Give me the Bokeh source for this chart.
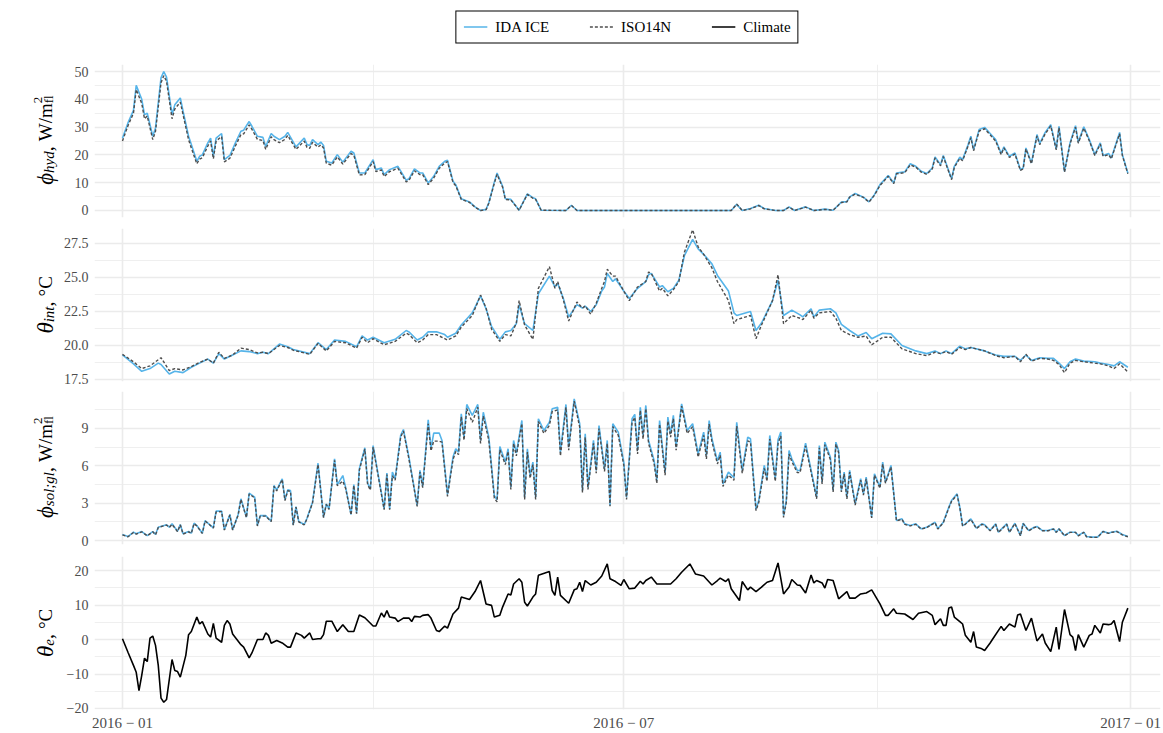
import numpy as np
from bokeh.plotting import figure
from bokeh.models import Range1d, FixedTicker, Legend, LegendItem, Label
from bokeh.layouts import row, column
from bokeh.embed import file_html
from bokeh.resources import INLINE

# ---------------------------------------------------------------- data
# x values are day numbers counted from 2016-01-01

# hydronic heating power, W/m2 floor
P1_DAY = [0, 2, 4, 5, 7, 8, 9, 11, 12, 14,
          15, 16, 18, 19, 21, 22, 24, 25, 27, 28,
          29, 31, 32, 33, 34, 36, 37, 39, 41, 43,
          44, 46, 47, 49, 51, 52, 54, 55, 57, 59,
          60, 63, 66, 67, 68, 69, 71, 72, 73, 74,
          76, 78, 80, 83, 84, 86, 88, 91, 92, 94,
          95, 97, 100, 103, 104, 106, 108, 109, 111, 113,
          115, 117, 118, 120, 121, 123, 126, 128, 130, 132,
          133, 135, 136, 138, 139, 141, 144, 147, 149, 150,
          152, 161, 163, 165, 221, 223, 225, 228, 231, 233,
          237, 240, 242, 244, 248, 251, 255, 258, 261, 263,
          264, 266, 269, 271, 273, 275, 278, 280, 281, 284,
          286, 288, 290, 292, 294, 295, 297, 298, 301, 302,
          304, 305, 307, 308, 309, 311, 313, 315, 317, 319,
          320, 322, 324, 326, 327, 328, 330, 332, 333, 335,
          337, 339, 340, 342, 344, 346, 347, 349, 351, 353,
          355, 356, 358, 359, 362, 363, 365]
IDA_HYD = [26, 31.5, 36, 45, 40, 34.5, 35, 26.7, 29.7, 47.7,
           50, 48, 34.5, 38, 40.5, 35.7, 26.7, 23.7, 17.7, 19.5,
           20, 24.3, 26, 19.5, 26, 27.7, 18.3, 19.8, 24.3, 28.5,
           28.9, 32, 30.3, 26.7, 26.3, 23, 27.7, 26.7, 25.5, 26.7,
           28.1, 22.9, 26.1, 23.7, 23.4, 25.5, 23.7, 24.6, 23.4, 17.7,
           17.1, 20.1, 17.4, 21.3, 20.7, 13.5, 13.5, 18.3, 14.7, 15.3,
           12.9, 14.7, 15.9, 10.9, 11.4, 15, 13.5, 13.5, 9.9, 12.3,
           15.9, 17.7, 18.1, 10.5, 9.3, 4.2, 3.1, 1.3, 0, 0.4,
           2.8, 10.2, 13.5, 8.7, 4.2, 4.0, 0.1, 6.0, 4.6, 4.2,
           0.1, 0, 1.9, 0, 0, 2.2, 0, 0.7, 1.9, 0.7,
           0, 0, 1.3, 0, 1.3, 0, 0.5, 0.1, 3.0, 3.2,
           4.9, 6.1, 4.8, 3.1, 5.7, 9.3, 12.6, 9.9, 13.5, 13.9,
           16.8, 15.9, 14.1, 13.3, 15.3, 19.3, 16.5, 19.8, 11.4, 15.9,
           19.2, 18.3, 23.7, 26.7, 21.9, 29.1, 29.9, 27.7, 25.5, 20.5,
           22.9, 19.5, 20.7, 14.7, 15.3, 22.5, 17.1, 27.3, 24.1, 28.1,
           30.9, 22.2, 30.3, 14.1, 24.3, 30.5, 24.6, 30.1, 25.5, 20.1,
           24.3, 19.8, 20.5, 18.9, 28.1, 20.1, 13.5]
ISO_HYD = [25, 30.5, 35, 43.5, 38.5, 33, 34, 25.5, 28.5, 46,
           48.5, 46.5, 33, 36.5, 39, 34.5, 25.5, 22.5, 16.8, 18.5,
           19, 23.2, 25, 18.6, 25, 26.6, 17.5, 18.8, 23.2, 27.3,
           27.6, 30.8, 29.2, 25.6, 25.2, 22, 26.5, 25.5, 24.4, 25.6,
           27, 22, 25, 22.7, 22.4, 24.5, 22.8, 23.6, 22.5, 17,
           16.3, 19.3, 16.7, 20.5, 19.9, 12.8, 12.9, 17.6, 14, 14.6,
           12.2, 14, 15.2, 10.3, 10.8, 14.3, 12.9, 12.9, 9.3, 11.7,
           15.2, 17.1, 17.6, 10.1, 8.9, 4.0, 2.9, 1.2, 0, 0.3,
           2.6, 9.8, 13.0, 8.4, 4.0, 3.8, 0.1, 5.8, 4.4, 4.0,
           0.1, 0, 1.8, 0, 0, 2.3, 0, 0.6, 1.8, 0.6,
           0, 0, 1.2, 0, 1.2, 0, 0.4, 0.1, 2.9, 3.1,
           4.8, 5.9, 4.7, 3.0, 5.5, 9.0, 12.3, 9.7, 13.2, 13.6,
           16.4, 15.6, 13.8, 13.0, 15.0, 18.9, 16.1, 19.4, 11.1, 15.5,
           18.8, 17.9, 23.2, 26.2, 21.5, 28.6, 29.4, 27.2, 25.0, 20.1,
           22.5, 19.1, 20.3, 14.4, 15.0, 22.1, 16.8, 26.8, 23.7, 27.6,
           30.4, 21.8, 29.8, 13.8, 23.9, 30.0, 24.2, 29.6, 25.1, 19.8,
           23.9, 19.5, 20.1, 18.6, 27.6, 19.8, 13.2]

# indoor temperature, degC
P2_DAY = [0, 4, 7, 10, 13, 14, 17, 19, 22, 25,
          28, 31, 33, 35, 37, 40, 43, 46, 49, 51,
          53, 57, 60, 62, 68, 71, 74, 77, 81, 85,
          87, 89, 91, 95, 99, 103, 104, 107, 109, 111,
          114, 117, 118, 121, 123, 127, 130, 132, 134, 137,
          139, 141, 143, 144, 146, 149, 151, 155, 157, 158,
          160, 162, 165, 167, 168, 170, 172, 174, 175, 176,
          178, 179, 182, 184, 187, 190, 191, 192, 195, 196,
          198, 200, 202, 204, 207, 209, 211, 214, 216, 220,
          222, 223, 228, 230, 232, 236, 238, 240, 243, 246,
          247, 250, 251, 253, 257, 259, 261, 264, 267, 270,
          272, 276, 279, 283, 288, 292, 295, 297, 299, 301,
          304, 306, 308, 313, 317, 320, 324, 326, 328, 330,
          333, 336, 338, 340, 342, 344, 346, 349, 353, 355,
          358, 360, 362, 365]
IDA_INT = [19.3, 18.65, 18.1, 18.3, 18.7, 18.6, 17.9, 18.1, 18.0, 18.4,
           18.7, 19.0, 18.7, 19.4, 19.0, 19.3, 19.6, 19.55, 19.4, 19.5,
           19.4, 20.1, 19.9, 19.7, 19.4, 20.2, 19.7, 20.4, 20.3, 19.9,
           20.7, 20.4, 20.6, 20.2, 20.45, 21.1, 21.0, 20.4, 20.6, 21.0,
           21.0, 20.8, 20.6, 20.9, 21.5, 22.4, 23.65, 22.7, 21.4, 20.45,
           21.0, 21.1, 21.6, 23.0, 21.6, 21.1, 23.8, 25.1, 24.3, 24.55,
           23.5, 22.1, 23.0, 22.75, 22.9, 22.5, 23.0, 24.0, 24.3, 25.3,
           24.7, 24.9, 24.0, 23.45, 24.2, 24.7, 25.2, 25.3, 24.3, 24.4,
           23.95, 24.2, 24.8, 26.6, 27.8, 27.1, 26.7, 26.0, 25.15, 24.0,
           22.4, 22.2, 22.5, 21.1, 21.65, 23.3, 24.8, 22.2, 22.6, 22.25,
           22.1, 22.7, 22.1, 22.6, 22.7, 22.4, 21.55, 21.1, 20.7, 20.95,
           20.5, 20.9, 20.85, 20.0, 19.6, 19.4, 19.6, 19.4, 19.6, 19.4,
           19.95, 19.75, 19.85, 19.6, 19.3, 19.2, 19.2, 18.9, 19.3, 18.9,
           19.1, 19.05, 19.05, 18.7, 18.3, 18.8, 19.0, 18.85, 18.8, 18.7,
           18.6, 18.5, 18.8, 18.4]
ISO_INT = [19.35, 18.8, 18.3, 18.5, 18.95, 19.1, 18.15, 18.3, 18.2, 18.45,
           18.75, 19.0, 18.7, 19.5, 19.05, 19.3, 19.8, 19.7, 19.45, 19.5,
           19.4, 20.0, 19.85, 19.65, 19.35, 20.15, 19.6, 20.3, 20.2, 19.8,
           20.6, 20.2, 20.5, 20.05, 20.3, 20.9, 20.8, 20.2, 20.4, 20.8,
           20.8, 20.5, 20.4, 20.7, 21.35, 22.2, 23.7, 22.75, 21.2, 20.3,
           20.8, 20.7, 21.65, 23.3, 21.5, 20.45, 24.2, 25.8, 24.2, 24.7,
           23.4, 21.8, 23.2, 22.75, 22.9, 22.3, 23.1, 24.2, 24.7, 25.6,
           25.1, 25.1, 24.0, 23.3, 24.3, 24.7, 25.4, 25.3, 24.0, 24.2,
           23.65, 24.1, 24.7, 26.85, 28.5, 27.25, 26.7, 25.7, 24.7, 23.3,
           21.6, 21.9, 22.2, 20.5, 21.5, 23.3, 25.2, 21.6, 22.2, 22.0,
           21.9, 22.6, 22.0, 22.4, 22.5, 22.0, 21.1, 20.8, 20.6, 20.7,
           20.05, 20.6, 20.6, 19.75, 19.4, 19.25, 19.5, 19.4, 19.55, 19.35,
           19.85, 19.7, 19.85, 19.6, 19.25, 19.1, 19.2, 18.8, 19.35, 18.85,
           19.05, 19.0, 18.9, 18.6, 18.0, 18.7, 18.9, 18.8, 18.7, 18.65,
           18.5, 18.3, 18.65, 18.05]

# solar gains through glazing, W/m2 floor
P3_DAY = [0, 2, 4, 5, 7, 9, 11, 12, 13, 16,
          17, 18, 20, 21, 22, 24, 25, 26, 27, 29,
          30, 33, 34, 36, 37, 39, 40, 42, 43, 45,
          46, 48, 49, 50, 52, 54, 55, 56, 58, 59,
          60, 61, 62, 63, 64, 66, 67, 69, 71, 73,
          74, 75, 77, 78, 80, 81, 83, 84, 85, 86,
          88, 89, 90, 91, 93, 95, 96, 97, 98, 99,
          101, 102, 104, 107, 108, 109, 111, 112, 113, 115,
          116, 118, 120, 121, 122, 123, 124, 125, 127, 129,
          130, 131, 133, 135, 136, 137, 139, 140, 141, 142,
          143, 145, 146, 147, 148, 149, 150, 151, 153, 155,
          156, 158, 159, 161, 162, 164, 166, 167, 168, 169,
          171, 172, 173, 175, 176, 177, 178, 180, 182, 183,
          185, 186, 187, 188, 189, 190, 191, 193, 194, 195,
          197, 198, 199, 200, 201, 203, 205, 207, 209, 211,
          212, 213, 214, 216, 217, 218, 220, 222, 223, 225,
          227, 228, 230, 231, 233, 234, 235, 237, 238, 239,
          240, 241, 242, 243, 245, 246, 248, 252, 253, 254,
          255, 257, 258, 259, 260, 261, 262, 263, 264, 266,
          268, 269, 270, 272, 273, 275, 276, 277, 279, 281,
          283, 284, 286, 288, 290, 292, 295, 296, 298, 300,
          301, 303, 304, 305, 306, 308, 310, 312, 313, 315,
          317, 318, 321, 322, 324, 326, 327, 329, 331, 332,
          334, 336, 338, 339, 340, 342, 344, 346, 347, 349,
          350, 352, 354, 356, 358, 359, 361, 363, 365]
IDA_SOL = [0.48, 0.32, 0.67, 0.54, 0.72, 0.4, 0.72, 0.48, 1.07, 1.26,
           1.07, 1.34, 0.75, 1.29, 0.54, 0.72, 0.59, 1.39, 1.2, 0.59,
           1.6, 1.02, 2.36, 2.36, 0.86, 2.09, 0.86, 2.09, 3.35, 1.88,
           3.8, 3.48, 1.2, 2.0, 2.0, 1.55, 4.42, 4.07, 4.96, 3.27,
           4.07, 4.02, 1.26, 2.73, 1.53, 1.29, 1.79, 3.08, 6.21, 1.88,
           2.95, 2.54, 6.56, 4.47, 5.22, 4.29, 2.09, 4.5, 2.2, 5.76,
           7.45, 4.61, 4.15, 7.63, 5.09, 2.54, 5.41, 2.54, 5.49, 4.96,
           8.44, 8.92, 6.7, 2.81, 5.63, 4.34, 9.7, 7.37, 8.63, 8.63,
           8.04, 3.7, 6.7, 7.37, 7.1, 10.18, 8.3, 10.93, 10.05, 10.93,
           8.04, 10.3, 8.3, 3.6, 3.27, 7.55, 6.3, 7.37, 4.29, 8.04,
           7.02, 9.64, 3.48, 7.37, 5.22, 6.3, 3.48, 9.78, 8.84, 9.5,
           10.58, 10.7, 7.1, 10.93, 7.5, 11.38, 9.38, 4.02, 8.57, 4.29,
           8.04, 5.63, 9.24, 5.76, 8.04, 2.81, 9.38, 8.71, 6.3, 3.48,
           9.78, 10.13, 7.23, 10.7, 8.44, 10.85, 8.04, 6.43, 4.82, 9.64,
           5.49, 9.91, 8.57, 10.05, 7.5, 10.98, 8.84, 9.38, 6.96, 8.71,
           6.83, 9.64, 8.17, 6.38, 7.1, 4.55, 5.49, 5.04, 9.5, 5.63,
           8.3, 8.17, 2.54, 3.21, 6.03, 4.96, 8.44, 4.96, 8.09, 8.71,
           2.01, 3.21, 7.23, 6.56, 5.63, 5.63, 7.82, 3.48, 7.63, 4.69,
           7.9, 6.7, 4.02, 7.9, 7.23, 4.02, 5.49, 3.48, 5.63, 2.95,
           4.96, 3.75, 5.09, 1.88, 5.36, 4.29, 6.3, 4.69, 6.03, 1.61,
           1.74, 1.34, 1.2, 1.34, 0.94, 1.07, 1.47, 0.94, 1.47, 2.68,
           3.21, 3.75, 2.68, 1.2, 1.34, 1.74, 0.99, 1.34, 1.26, 0.8,
           1.34, 0.67, 1.34, 0.67, 1.39, 0.4, 1.39, 0.8, 1.07, 1.13,
           0.8, 0.8, 0.94, 0.67, 0.94, 0.4, 0.67, 0.67, 0.4, 0.67,
           0.32, 0.27, 0.27, 0.75, 0.59, 0.67, 0.75, 0.48, 0.32]
ISO_SOL = [0.45, 0.3, 0.65, 0.52, 0.7, 0.38, 0.7, 0.46, 1.05, 1.24,
           1.05, 1.3, 0.72, 1.26, 0.52, 0.7, 0.57, 1.36, 1.17, 0.57,
           1.57, 1.0, 2.3, 2.32, 0.84, 2.05, 0.84, 2.05, 3.3, 1.84,
           3.74, 3.42, 1.17, 1.96, 1.96, 1.52, 4.35, 3.98, 4.9, 3.2,
           4.0, 3.95, 1.23, 2.68, 1.5, 1.26, 1.75, 3.02, 6.1, 1.84,
           2.9, 2.5, 6.45, 4.4, 4.77, 4.2, 2.05, 4.42, 2.15, 5.65,
           7.35, 4.5, 4.05, 7.5, 4.98, 2.48, 5.3, 2.48, 5.2, 4.85,
           8.3, 8.8, 6.55, 2.74, 5.5, 4.25, 9.38, 7.2, 7.98, 7.98,
           7.9, 3.55, 6.5, 7.15, 6.9, 9.95, 8.05, 10.6, 9.5, 10.7,
           7.8, 10.0, 8.05, 3.4, 3.1, 7.3, 6.1, 7.15, 4.1, 7.8,
           6.8, 9.4, 3.3, 7.1, 5.0, 6.1, 3.3, 9.55, 8.6, 9.25,
           10.35, 10.5, 6.8, 10.7, 7.25, 11.2, 9.1, 3.85, 8.3, 4.1,
           7.8, 5.4, 9.0, 5.55, 7.8, 2.75, 9.15, 8.45, 6.05, 3.3,
           9.5, 9.9, 6.95, 10.45, 8.15, 10.6, 7.8, 6.2, 4.6, 9.35,
           5.25, 9.6, 8.3, 9.8, 7.25, 10.8, 8.6, 9.15, 6.7, 8.45,
           6.55, 9.35, 7.95, 6.15, 6.85, 4.35, 5.25, 4.85, 9.2, 5.4,
           8.0, 7.9, 2.4, 3.05, 5.8, 4.75, 8.15, 4.75, 7.8, 8.4,
           1.85, 3.05, 6.95, 6.35, 5.45, 5.45, 7.6, 3.35, 7.45, 4.55,
           7.7, 6.5, 3.9, 7.75, 7.05, 3.9, 5.35, 3.35, 5.5, 2.85,
           4.85, 3.65, 4.95, 1.82, 5.25, 4.2, 6.15, 4.6, 5.9, 1.58,
           1.7, 1.3, 1.17, 1.3, 0.92, 1.04, 1.43, 0.92, 1.43, 2.62,
           3.15, 3.68, 2.62, 1.17, 1.3, 1.7, 0.96, 1.3, 1.23, 0.78,
           1.3, 0.65, 1.3, 0.65, 1.36, 0.38, 1.36, 0.78, 1.04, 1.1,
           0.78, 0.78, 0.92, 0.65, 0.92, 0.38, 0.65, 0.65, 0.38, 0.65,
           0.3, 0.25, 0.25, 0.72, 0.57, 0.65, 0.72, 0.46, 0.3]

# outdoor air temperature, degC
P4_DAY = [0, 2, 4, 5, 6, 7, 8, 9, 10, 11,
          12, 13, 14, 15, 16, 18, 19, 20, 21, 23,
          24, 25, 27, 28, 29, 31, 32, 33, 34, 36,
          37, 38, 39, 40, 43, 44, 46, 47, 49, 51,
          52, 53, 54, 56, 58, 60, 61, 63, 65, 66,
          68, 69, 71, 72, 73, 74, 76, 78, 80, 82,
          84, 86, 88, 91, 92, 94, 95, 96, 97, 99,
          100, 102, 104, 105, 106, 108, 109, 111, 112, 114,
          115, 117, 118, 120, 122, 123, 126, 128, 130, 132,
          134, 135, 137, 138, 140, 141, 142, 144, 145, 146,
          147, 149, 150, 151, 155, 156, 157, 158, 159, 162,
          164, 165, 166, 167, 168, 170, 172, 174, 176, 177,
          179, 181, 182, 184, 186, 188, 189, 190, 192, 194,
          199, 201, 203, 206, 208, 211, 214, 216, 217, 219,
          220, 221, 224, 225, 227, 228, 230, 232, 234, 236,
          238, 240, 242, 243, 245, 246, 248, 250, 251, 252,
          254, 255, 256, 258, 260, 263, 264, 266, 268, 270,
          272, 275, 277, 278, 280, 281, 284, 287, 289, 292,
          294, 295, 297, 298, 299, 300, 301, 302, 304, 305,
          306, 308, 309, 310, 312, 313, 315, 316, 319, 320,
          322, 324, 325, 326, 328, 330, 332, 334, 335, 337,
          339, 340, 342, 344, 345, 346, 347, 349, 351, 352,
          353, 355, 356, 358, 359, 360, 362, 363, 365]
CLIMATE = [0.2, -3.7, -7.5, -9.5, -14.8, -10.4, -5.4, -6.4, 0.4, 1.0,
           -1.7, -7.5, -17.0, -18.2, -17.4, -5.8, -9.0, -9.3, -10.9, -4.6,
           1.4, 2.3, 6.5, 4.5, 5.2, 1.6, 0.7, 4.7, 0.4, -0.8,
           4.1, 5.5, 4.5, 1.6, -1.5, -2.2, -5.3, -3.9, 0.0, 0.0,
           1.9, 1.2, -1.1, -0.3, -1.0, -2.2, -2.2, 1.9, 1.2, 0.4,
           1.9, 0.0, 0.2, 0.2, 1.4, 5.3, 5.3, 2.3, 4.3, 2.3,
           2.3, 7.1, 6.3, 3.9, 3.9, 7.7, 6.5, 8.4, 6.5, 6.2,
           5.2, 6.2, 6.2, 5.2, 6.7, 6.5, 7.0, 7.2, 6.2, 2.6,
           2.3, 3.9, 3.3, 7.4, 9.1, 12.3, 11.6, 13.9, 17.1, 10.3,
           9.9, 6.5, 7.0, 9.4, 13.2, 12.9, 16.1, 17.6, 16.6, 10.8,
           9.7, 12.3, 13.2, 18.6, 19.7, 14.2, 12.8, 18.1, 12.8, 10.5,
           14.4, 14.7, 16.6, 13.9, 17.1, 15.8, 16.6, 18.4, 21.9, 17.6,
           16.8, 15.7, 17.4, 14.7, 14.9, 16.9, 16.1, 17.1, 18.1, 16.1,
           16.1, 17.6, 19.5, 21.9, 19.0, 18.4, 15.8, 17.1, 17.8, 16.8,
           17.6, 14.7, 11.3, 16.8, 14.4, 15.2, 13.9, 15.2, 16.6, 17.1,
           22.2, 13.2, 15.2, 17.4, 15.8, 15.7, 13.5, 18.7, 16.4, 17.1,
           16.4, 14.9, 17.4, 17.1, 11.8, 13.9, 12.0, 12.0, 13.2, 13.5,
           14.4, 10.3, 7.0, 7.0, 8.9, 7.6, 7.4, 5.8, 7.6, 8.1,
           7.0, 4.3, 6.0, 4.1, 4.1, 9.1, 9.4, 6.5, 5.2, 4.5,
           1.2, -0.8, 2.3, -2.2, -2.7, -3.2, -1.0, 0.2, 3.8, 2.6,
           4.5, 3.6, 7.1, 7.4, 2.6, 6.2, -0.4, 1.6, -1.0, -3.5,
           3.6, -2.9, 8.7, 1.4, 0.7, -3.2, 1.4, -2.2, 1.2, 1.6,
           4.1, 1.9, 4.5, 4.3, 4.5, 5.5, -0.6, 5.0, 9.1]

X_MAJOR = [0, 182, 366]
X_MINOR = [91, 274]
X_LABELS = {0: "2016 \u2212 01", 182: "2016 \u2212 07", 366: "2017 \u2212 01"}

SERIES_NAMES = ["IDA ICE", "ISO14N", "Climate"]

# ---------------------------------------------------------------- style
SERIF = "Liberation Serif"
IDA_COLOR = "#56B4E9"
ISO_COLOR = "#4D4D4D"
GRID = "#EBEBEB"
TICK_TEXT = "#4D4D4D"

X_START, X_END = -10.15, 376.85
LABEL_W = 60
PANEL_W = 1163 - LABEL_W
LEFT_B, RIGHT_B = 32, 3
FRAME_H = 153
LEGEND_H = 53
TOTAL_H = 733

# panel geometry: (top border, bottom border); frame tops fall at 64, 228, 391, 556
BORDERS = [(11, 3), (8, 5), (5, 5), (7, 24)]


def make_panel(yr, yticks, yminor, ylabels, top, bottom, show_x):
    p = figure(width=PANEL_W, height=top + FRAME_H + bottom,
               x_range=Range1d(X_START, X_END), y_range=Range1d(*yr),
               x_axis_location="below" if show_x else None,
               output_backend="svg", toolbar_location=None,
               min_border_left=LEFT_B, min_border_right=RIGHT_B,
               min_border_top=top, min_border_bottom=bottom)
    p.outline_line_color = None
    p.background_fill_color = "white"
    p.border_fill_color = "white"
    xt = FixedTicker(ticks=X_MAJOR, minor_ticks=X_MINOR)
    yt = FixedTicker(ticks=yticks, minor_ticks=yminor)
    p.xgrid.ticker = xt
    p.ygrid.ticker = yt
    for g in (p.xgrid, p.ygrid):
        g.grid_line_color = GRID
        g.grid_line_width = 1.6
        g.minor_grid_line_color = GRID
        g.minor_grid_line_width = 0.8
    axes = [p.yaxis[0]]
    p.yaxis.ticker = yt
    p.yaxis.major_label_overrides = ylabels
    if show_x:
        p.xaxis.ticker = xt
        p.xaxis.major_label_overrides = X_LABELS
        axes.append(p.xaxis[0])
    for ax in axes:
        ax.axis_line_color = None
        ax.major_tick_line_color = None
        ax.minor_tick_line_color = None
        ax.major_tick_in = 0
        ax.major_tick_out = 0
        ax.minor_tick_in = 0
        ax.minor_tick_out = 0
        ax.major_label_text_font = SERIF
        ax.major_label_text_font_size = "14px"
        ax.major_label_text_color = TICK_TEXT
        ax.major_label_standoff = 6
    if show_x:
        p.xaxis.major_label_text_font_size = "15px"
        p.xaxis.major_label_standoff = 5
    return p


def add_pair(p, days, ida, iso):
    r1 = p.line(days, ida, line_color=IDA_COLOR, line_width=1.6)
    r2 = p.line(days, iso, line_color=ISO_COLOR, line_width=1.4, line_dash="3 2")
    return r1, r2


p1 = make_panel((-2.52, 52.52), [0, 10, 20, 30, 40, 50], [5, 15, 25, 35, 45],
                {v: str(v) for v in [0, 10, 20, 30, 40, 50]}, *BORDERS[0], False)
p2 = make_panel((17.35, 28.6), [17.5, 20, 22.5, 25, 27.5], [18.75, 21.25, 23.75, 26.25, 28.75],
                {17.5: "17.5", 20: "20.0", 22.5: "22.5", 25: "25.0", 27.5: "27.5"},
                *BORDERS[1], False)
p3 = make_panel((-0.32, 11.97), [0, 3, 6, 9], [1.5, 4.5, 7.5, 10.5],
                {0: "0", 3: "3", 6: "6", 9: "9"}, *BORDERS[2], False)
p4 = make_panel((-20.29, 24.06), [-20, -10, 0, 10, 20], [-15, -5, 5, 15],
                {-20: "\u221220", -10: "\u221210", 0: "0", 10: "10", 20: "20"},
                *BORDERS[3], True)

add_pair(p1, P1_DAY, IDA_HYD, ISO_HYD)
add_pair(p2, P2_DAY, IDA_INT, ISO_INT)
add_pair(p3, P3_DAY, IDA_SOL, ISO_SOL)
p4.line(P4_DAY, CLIMATE, line_color="black", line_width=1.6)

# ---------------------------------------------------------------- legend strip
# a strip above the panels; its y range sits far away from the data so the
# series only supply the legend swatches
leg_fig = figure(width=PANEL_W, height=LEGEND_H, x_range=p1.x_range,
                 y_range=Range1d(1000, 1001), x_axis_location=None, y_axis_location=None,
                 output_backend="svg", toolbar_location=None,
                 min_border_left=28, min_border_right=1, min_border_top=0, min_border_bottom=0)
leg_fig.grid.visible = False
leg_fig.outline_line_color = None
lr_ida, lr_iso = add_pair(leg_fig, P1_DAY, IDA_HYD, ISO_HYD)
lr_clim = leg_fig.line(P4_DAY, CLIMATE, line_color="black", line_width=1.6)

legend = Legend(items=[LegendItem(label=SERIES_NAMES[0], renderers=[lr_ida]),
                       LegendItem(label=SERIES_NAMES[1], renderers=[lr_iso]),
                       LegendItem(label=SERIES_NAMES[2], renderers=[lr_clim])],
                orientation="horizontal", location="center")
legend.label_text_font = SERIF
legend.label_text_font_size = "15px"
legend.label_text_color = "black"
legend.border_line_color = "black"
legend.border_line_alpha = 1.0
legend.border_line_width = 1.5
legend.background_fill_alpha = 1.0
legend.glyph_width = 24
legend.glyph_height = 14
legend.label_standoff = 8
legend.spacing = 40
legend.padding = 7
legend.margin = 0
leg_fig.add_layout(legend, "center")

# ---------------------------------------------------------------- y titles
# a narrow strip left of the panels holds the rotated titles; each title is
# built from pieces so that subscripts and superscripts can be drawn
EM_NORMAL = {" ": 0.25, ",": 0.25, "W": 0.944, "/": 0.278, "m": 0.778, "2": 0.5,
             "C": 0.667, "\u00b0": 0.4, "f": 0.333, "l": 0.278}
EM_ITALIC = {"h": 0.5, "y": 0.444, "d": 0.5, "i": 0.278, "n": 0.5, "t": 0.278,
             "s": 0.389, "o": 0.5, "l": 0.278, ";": 0.333, "g": 0.5, "e": 0.444,
             "\u03d5": 0.6, "\u03b8": 0.5}

lab = figure(width=LABEL_W, height=TOTAL_H, x_range=Range1d(0, LABEL_W),
             y_range=Range1d(0, TOTAL_H), x_axis_location=None, y_axis_location=None,
             output_backend="svg", toolbar_location=None, min_border=0)
lab.grid.visible = False
lab.outline_line_color = None
lab.background_fill_color = "white"


def text_len(s, size, style):
    table = EM_ITALIC if style == "italic" else EM_NORMAL
    return sum(table.get(c, 0.5) for c in s) * size


def axis_title(slots, y_mid_from_top, x_base):
    advances = [max(text_len(t, s, st) for t, s, st, dx in slot) for slot in slots]
    pos = (TOTAL_H - y_mid_from_top) - sum(advances) / 2
    for slot, adv in zip(slots, advances):
        for t, s, st, dx in slot:
            # anchored at the upper end of each piece (right-aligned, rotated)
            lab.add_layout(Label(x=x_base + dx, y=pos + text_len(t, s, st),
                                 x_units="data", y_units="data",
                                 text=t, angle=np.pi / 2, text_font=SERIF,
                                 text_font_size=f"{s}px", text_font_style=st,
                                 text_color="black", text_align="right",
                                 text_baseline="alphabetic"))
        pos += adv


# vertical centres of the four panel frames, px from the page top
frame_tops = []
y_cursor = LEGEND_H
for top, bottom in BORDERS:
    frame_tops.append(y_cursor + top)
    y_cursor += top + FRAME_H + bottom
centres = [t + FRAME_H / 2 for t in frame_tops]

BASE = 45
UNIT_AREA = [("W/m", 19, "normal", 0)]
UNIT_POW = [("2", 13, "normal", -8), ("fl", 13, "normal", 3)]
axis_title([[("\u03d5", 23, "italic", 0)], [("hyd", 15, "italic", 3)],
            [(", ", 20, "normal", 0)], UNIT_AREA, UNIT_POW], centres[0], BASE)
axis_title([[("\u03b8", 23, "italic", 0)], [("int", 15, "italic", 3)],
            [(", ", 20, "normal", 0)], [("\u00b0C", 19, "normal", 0)]], centres[1], BASE)
axis_title([[("\u03d5", 23, "italic", 0)], [("sol;gl", 15, "italic", 3)],
            [(", ", 20, "normal", 0)], UNIT_AREA, UNIT_POW], centres[2], BASE)
axis_title([[("\u03b8", 23, "italic", 0)], [("e", 15, "italic", 3)],
            [(", ", 20, "normal", 0)], [("\u00b0C", 19, "normal", 0)]], centres[3], BASE)

layout = row(lab, column(leg_fig, p1, p2, p3, p4))

with open("out.html", "w") as f:
    f.write(file_html(layout, INLINE))
